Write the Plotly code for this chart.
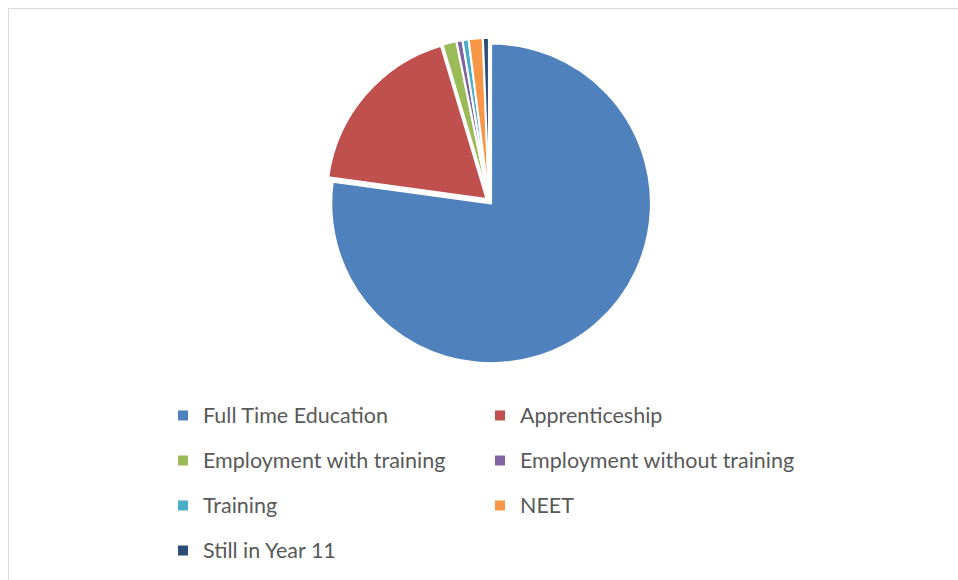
import plotly.graph_objects as go

categories = ["Full Time Education", "Apprenticeship", "Employment with training",
              "Employment without training", "Training", "NEET", "Still in Year 11"]
values = [77.0, 18.2, 1.4, 0.6, 0.6, 1.4, 0.6]
colors = ["#4F81BD", "#C0504D", "#9BBB59", "#8064A2", "#4BACC6", "#F79646", "#2C4D75"]

W, H = 958, 580
ML, MR = 0, 300
PW = W - ML - MR

labels = ['<span style="font-size:21.5px;baseline-shift:5px">%s</span>' % c for c in categories]

fig = go.Figure(go.Pie(
    labels=labels,
    values=values,
    sort=False,
    direction="clockwise",
    rotation=0,
    textinfo="none",
    pull=0.02,
    marker=dict(colors=colors, line=dict(color="white", width=2)),
    domain=dict(x=[326 / PW, 652 / PW],
                y=[1 - 364 / H, 1 - 38 / H]),
))

fig.update_layout(
    width=W, height=H,
    margin=dict(l=ML, r=MR, t=0, b=0),
    paper_bgcolor="white",
    plot_bgcolor="white",
    font=dict(family="Lato, sans-serif", color="#595959"),
    legend=dict(
        orientation="h",
        x=163 / PW, xanchor="left",
        y=1 - 388 / H, yanchor="top",
        entrywidth=272,
        font=dict(size=32.3, family="Lato, sans-serif", color="#595959"),
        traceorder="normal",
    ),
    shapes=[dict(type="rect", xref="paper", yref="paper",
                 x0=8.5 / PW, x1=1.6, y0=-0.1, y1=1 - 8.5 / H,
                 line=dict(color="#D9D9D9", width=1), fillcolor="rgba(0,0,0,0)")],
)

fig.write_html(
    "out.html",
    config={"displayModeBar": False},
    post_script="document.body.style.margin='0';document.body.style.overflow='hidden';",
)
